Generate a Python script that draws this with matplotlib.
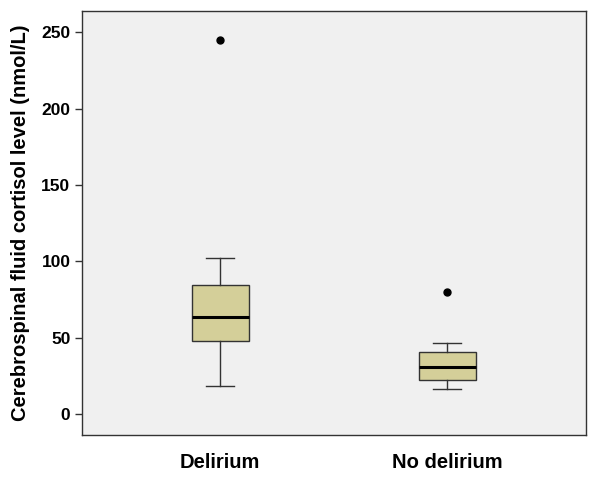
import matplotlib
matplotlib.use('Agg')
import matplotlib.pyplot as plt

plt.rcParams['font.family'] = ['Liberation Sans', 'DejaVu Sans']

groups = ['Delirium', 'No delirium']
whislo = [18.3, 16.0]
q1 = [47.8, 22.3]
med = [63.6, 31.0]
q3 = [84.7, 40.2]
whishi = [102.0, 46.5]
outliers = [[245.0], [79.7]]

stats = []
for i, g in enumerate(groups):
    stats.append({'label': g, 'whislo': whislo[i], 'q1': q1[i], 'med': med[i],
                  'q3': q3[i], 'whishi': whishi[i], 'fliers': outliers[i]})

fig = plt.figure(figsize=(6, 4.8), dpi=100)
ax = fig.add_axes([0.137, 0.094, 0.84, 0.883])
ax.set_facecolor('#f0f0f0')

ax.bxp(stats, positions=[1, 2], widths=0.25, patch_artist=True,
       boxprops=dict(facecolor='#d4cf99', edgecolor='#333333', linewidth=1),
       medianprops=dict(color='black', linewidth=2.2),
       whiskerprops=dict(color='#333333', linewidth=1),
       capprops=dict(color='#333333', linewidth=1),
       capwidths=0.125,
       flierprops=dict(marker='o', markerfacecolor='black', markeredgecolor='black', markersize=5))

ax.set_xlim(0.392, 2.612)
ax.set_ylim(-13.8, 264)
ax.set_yticks([0, 50, 100, 150, 200, 250])
ax.tick_params(axis='x', length=0, pad=13)
ax.tick_params(axis='y', length=5, width=1, color='#333333')
for lbl in ax.get_xticklabels():
    lbl.set_fontsize(14.5)
    lbl.set_fontweight('bold')
for lbl in ax.get_yticklabels():
    lbl.set_fontsize(12.5)
    lbl.set_fontweight('bold')
for s in ax.spines.values():
    s.set_color('#333333')
    s.set_linewidth(1)

ax.set_ylabel('Cerebrospinal fluid cortisol level (nmol/L)', fontsize=14.5, fontweight='bold', labelpad=8)

fig.savefig('out.png', dpi=100)
